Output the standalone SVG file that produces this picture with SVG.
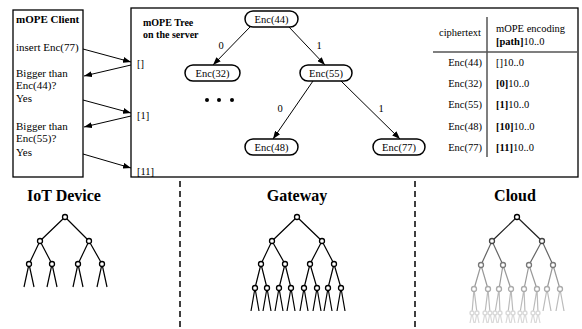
<svg xmlns="http://www.w3.org/2000/svg" width="582" height="329" viewBox="0 0 582 329">
<defs>
<marker id="ah" markerUnits="userSpaceOnUse" markerWidth="8" markerHeight="6" refX="8" refY="3" orient="auto">
<path d="M0,0 L8,3 L0,6 z" fill="#000"/>
</marker>
</defs>
<style>
text{font-family:"Liberation Serif","Times New Roman",serif;fill:#000}
.t{font-size:11px}
.s{font-size:10.5px}
.b{font-weight:bold}
.hb{font-size:10px;font-weight:bold}
.h{font-size:16px;font-weight:bold;text-anchor:middle}
.box{fill:#fff;stroke:#000;stroke-width:1.3}
.node{fill:#fff;stroke:#000;stroke-width:1.5}
.arr{stroke:#000;stroke-width:1;fill:none;marker-end:url(#ah)}
.tl{stroke:#000;stroke-width:1.2;fill:none}
.tc{fill:#fff;stroke:#000;stroke-width:1.3}
.dash{stroke:#000;stroke-width:1.5;stroke-dasharray:6,4}
.mid{text-anchor:middle}
.end{text-anchor:end}
</style>

<g id="client">
<rect class="box" x="13" y="10" width="70" height="167"/>
<text class="t b" x="16" y="23">mOPE Client</text>
<text class="t" x="16" y="51">insert Enc(77)</text>
<text class="t" x="16" y="77">Bigger than</text>
<text class="t" x="16" y="89">Enc(44)?</text>
<text class="t" x="16" y="102">Yes</text>
<text class="t" x="16" y="130">Bigger than</text>
<text class="t" x="16" y="142">Enc(55)?</text>
<text class="t" x="16" y="156">Yes</text>
</g>

<g id="server">
<rect class="box" x="131" y="8" width="447" height="169"/>
<text class="hb" x="143" y="26">mOPE Tree</text>
<text class="hb" x="143" y="38">on the server</text>
<text class="s" x="137" y="67">[]</text>
<text class="s" x="137" y="119">[1]</text>
<text class="s" x="137" y="175">[11]</text>
</g>

<g id="n44"><rect class="node" x="245" y="11" width="53" height="16" rx="8"/><text class="s mid" x="271.5" y="22.5">Enc(44)</text></g>
<g id="n32"><rect class="node" x="185" y="65" width="55" height="16" rx="8"/><text class="s mid" x="212.5" y="76.5">Enc(32)</text></g>
<g id="n55"><rect class="node" x="300" y="65" width="52" height="16" rx="8"/><text class="s mid" x="326" y="76.5">Enc(55)</text></g>
<g id="n48"><rect class="node" x="245" y="139" width="53" height="16" rx="8"/><text class="s mid" x="271.5" y="150.5">Enc(48)</text></g>
<g id="n77"><rect class="node" x="373" y="139" width="52" height="16" rx="8"/><text class="s mid" x="399" y="150.5">Enc(77)</text></g>
<g id="dots">
<circle cx="207" cy="100" r="2"/><circle cx="219" cy="100" r="2"/><circle cx="232" cy="100" r="2"/>
</g>

<g id="table">
<line x1="487" y1="17" x2="487" y2="157" stroke="#555" stroke-width="1.5"/>
<line x1="433" y1="52" x2="577" y2="52" stroke="#555" stroke-width="1.5"/>
<text class="s mid" x="460" y="36">ciphertext</text>
<text class="s" x="496" y="32">mOPE encoding</text>
<text class="s" x="496" y="45"><tspan class="b">[path]</tspan>10..0</text>
<text class="s end" x="482" y="65.5">Enc(44)</text><text class="s" x="496" y="65.5">[]10..0</text>
<text class="s end" x="482" y="86.5">Enc(32)</text><text class="s" x="496" y="86.5"><tspan class="b">[0]</tspan>10..0</text>
<text class="s end" x="482" y="107.5">Enc(55)</text><text class="s" x="496" y="107.5"><tspan class="b">[1]</tspan>10..0</text>
<text class="s end" x="482" y="129.5">Enc(48)</text><text class="s" x="496" y="129.5"><tspan class="b">[10]</tspan>10..0</text>
<text class="s end" x="482" y="150.5">Enc(77)</text><text class="s" x="496" y="150.5"><tspan class="b">[11]</tspan>10..0</text>
</g>

<g id="connectors">
<line class="arr" x1="83" y1="49" x2="131" y2="62"/>
<line class="arr" x1="131" y1="65" x2="84" y2="76"/>
<line class="arr" x1="83" y1="100" x2="131" y2="113"/>
<line class="arr" x1="131" y1="116" x2="84" y2="127"/>
<line class="arr" x1="83" y1="154" x2="131" y2="168"/>
<line class="arr" x1="250" y1="27" x2="213" y2="65"/>
<line class="arr" x1="289" y1="27" x2="325" y2="65"/>
<line class="arr" x1="313" y1="81" x2="273" y2="139"/>
<line class="arr" x1="341" y1="81" x2="400" y2="139"/>
<text class="s mid" x="221" y="49">0</text>
<text class="s mid" x="319" y="49">1</text>
<text class="s mid" x="280" y="112">0</text>
<text class="s mid" x="381" y="112">1</text>
</g>

<g id="dividers">
<line class="dash" x1="180" y1="181" x2="180" y2="329"/>
<line class="dash" x1="415" y1="181" x2="415" y2="329"/>
</g>

<g id="iot">
<text class="h" x="64" y="201">IoT Device</text>
<path class="tl" d="M65,217 L40,241 M65,217 L89,241 M40,241 L29,264 M40,241 L52,264 M89,241 L78,264 M89,241 L102,264
M29,264 L24,287 M29,264 L34,287 M52,264 L47,287 M52,264 L57,287 M78,264 L73,287 M78,264 L83,287 M102,264 L97,287 M102,264 L107,287"/>
<circle class="tc" cx="65" cy="217" r="2.5"/>
<circle class="tc" cx="40" cy="241" r="2.5"/><circle class="tc" cx="89" cy="241" r="2.5"/>
<circle class="tc" cx="29" cy="264" r="2.5"/><circle class="tc" cx="52" cy="264" r="2.5"/><circle class="tc" cx="78" cy="264" r="2.5"/><circle class="tc" cx="102" cy="264" r="2.5"/>
</g>

<g id="gateway">
<text class="h" x="297" y="201">Gateway</text>
<path class="tl" d="M297,217 L272,241 M297,217 L322,241 M272,241 L261,264 M272,241 L285,264 M322,241 L310,264 M322,241 L334,264
M261,264 L255,288 M261,264 L267,288 M285,264 L279,288 M285,264 L291,288 M310,264 L304,288 M310,264 L317,288 M334,264 L328,288 M334,264 L341,288
M255,288 L251,311 M255,288 L259,311 M267,288 L263,311 M267,288 L271,311 M279,288 L275,311 M279,288 L283,311 M291,288 L287,311 M291,288 L295,311
M304,288 L300,311 M304,288 L308,311 M317,288 L313,311 M317,288 L321,311 M328,288 L324,311 M328,288 L332,311 M341,288 L337,311 M341,288 L345,311"/>
<circle class="tc" cx="297" cy="217" r="2.5"/>
<circle class="tc" cx="272" cy="241" r="2.5"/><circle class="tc" cx="322" cy="241" r="2.5"/>
<circle class="tc" cx="261" cy="264" r="2.5"/><circle class="tc" cx="285" cy="264" r="2.5"/><circle class="tc" cx="310" cy="264" r="2.5"/><circle class="tc" cx="334" cy="264" r="2.5"/>
<circle class="tc" cx="255" cy="288" r="2.5"/><circle class="tc" cx="267" cy="288" r="2.5"/><circle class="tc" cx="279" cy="288" r="2.5"/><circle class="tc" cx="291" cy="288" r="2.5"/>
<circle class="tc" cx="304" cy="288" r="2.5"/><circle class="tc" cx="317" cy="288" r="2.5"/><circle class="tc" cx="328" cy="288" r="2.5"/><circle class="tc" cx="341" cy="288" r="2.5"/>
</g>

<g id="cloud">
<text class="h" x="515" y="201">Cloud</text>
<path class="tl" style="stroke:#d8d8d8" d="M472,313 L470,323 M472,313 L474,323 M477,313 L475,323 M477,313 L479,323
M485,313 L483,323 M485,313 L487,323 M490,313 L488,323 M490,313 L492,323
M495,313 L493,323 M495,313 L497,323 M500,313 L498,323 M500,313 L502,323
M508,313 L506,323 M508,313 L510,323 M513,313 L511,323 M513,313 L515,323
M520,313 L518,323 M520,313 L522,323 M525,313 L523,323 M525,313 L527,323
M533,313 L531,323 M533,313 L535,323 M538,313 L536,323 M538,313 L540,323"/>
<path class="tl" style="stroke:#bbbbbb" d="M474,289 L472,313 M474,289 L477,313 M488,289 L485,313 M488,289 L490,313 M499,289 L495,313 M499,289 L500,313
M511,289 L508,313 M511,289 L513,313 M524,289 L520,313 M524,289 L525,313 M537,289 L533,313 M537,289 L538,313
M547,289 L543,311 M547,289 L551,311 M560,289 L556,311 M560,289 L564,311"/>
<path class="tl" style="stroke:#999999" d="M481,265 L474,289 M481,265 L488,289 M503,265 L499,289 M503,265 L511,289 M529,265 L524,289 M529,265 L537,289 M553,265 L547,289 M553,265 L560,289"/>
<path class="tl" style="stroke:#666666" d="M492,241 L481,265 M492,241 L503,265 M542,241 L529,265 M542,241 L553,265"/>
<path class="tl" style="stroke:#222222" d="M517,217 L492,241 M517,217 L542,241"/>
<circle class="tc" style="stroke:#d8d8d8" cx="472" cy="313" r="2"/><circle class="tc" style="stroke:#d8d8d8" cx="477" cy="313" r="2"/>
<circle class="tc" style="stroke:#d8d8d8" cx="485" cy="313" r="2"/><circle class="tc" style="stroke:#d8d8d8" cx="490" cy="313" r="2"/>
<circle class="tc" style="stroke:#d8d8d8" cx="495" cy="313" r="2"/><circle class="tc" style="stroke:#d8d8d8" cx="500" cy="313" r="2"/>
<circle class="tc" style="stroke:#d8d8d8" cx="508" cy="313" r="2"/><circle class="tc" style="stroke:#d8d8d8" cx="513" cy="313" r="2"/>
<circle class="tc" style="stroke:#d8d8d8" cx="520" cy="313" r="2"/><circle class="tc" style="stroke:#d8d8d8" cx="525" cy="313" r="2"/>
<circle class="tc" style="stroke:#d8d8d8" cx="533" cy="313" r="2"/><circle class="tc" style="stroke:#d8d8d8" cx="538" cy="313" r="2"/>
<circle class="tc" style="stroke:#aaaaaa" cx="474" cy="289" r="2.5"/><circle class="tc" style="stroke:#aaaaaa" cx="488" cy="289" r="2.5"/>
<circle class="tc" style="stroke:#aaaaaa" cx="499" cy="289" r="2.5"/><circle class="tc" style="stroke:#aaaaaa" cx="511" cy="289" r="2.5"/>
<circle class="tc" style="stroke:#aaaaaa" cx="524" cy="289" r="2.5"/><circle class="tc" style="stroke:#aaaaaa" cx="537" cy="289" r="2.5"/>
<circle class="tc" style="stroke:#aaaaaa" cx="547" cy="289" r="2.5"/><circle class="tc" style="stroke:#aaaaaa" cx="560" cy="289" r="2.5"/>
<circle class="tc" style="stroke:#777777" cx="481" cy="265" r="2.5"/><circle class="tc" style="stroke:#777777" cx="503" cy="265" r="2.5"/>
<circle class="tc" style="stroke:#777777" cx="529" cy="265" r="2.5"/><circle class="tc" style="stroke:#777777" cx="553" cy="265" r="2.5"/>
<circle class="tc" style="stroke:#444444" cx="492" cy="241" r="2.5"/><circle class="tc" style="stroke:#444444" cx="542" cy="241" r="2.5"/>
<circle class="tc" cx="517" cy="217" r="2.5"/>
</g>
</svg>
